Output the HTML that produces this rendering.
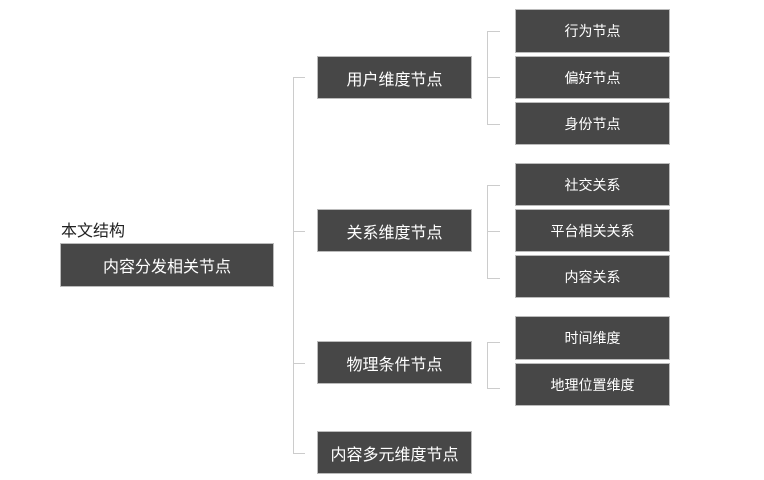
<!DOCTYPE html>
<html><head><meta charset="utf-8"><style>
body{margin:0;width:764px;height:480px;background:#fff;position:relative;overflow:hidden;font-family:"Liberation Sans","Noto Sans CJK SC",sans-serif}
.b{position:absolute;background:#474747;color:#fff;display:flex;align-items:center;justify-content:center;box-shadow:0 0 0 1px #bbb}
.m{font-size:16px}.l{font-size:14px}
.v{position:absolute;width:1px;background:#ccc}
.h{position:absolute;height:1px;background:#ccc}
</style></head><body>
<div style="position:absolute;left:61px;top:217px;font-size:16px;color:#222">本文结构</div>
<div class="b m" style="left:61px;top:244px;width:212px;height:42px">内容分发相关节点</div>

<div class="v" style="left:293px;top:77px;height:377px"></div>
<div class="h" style="left:293px;top:77px;width:12px"></div>
<div class="h" style="left:293px;top:231px;width:12px"></div>
<div class="h" style="left:293px;top:363px;width:12px"></div>
<div class="h" style="left:293px;top:453px;width:12px"></div>

<div class="b m" style="left:318px;top:57px;width:153px;height:41px">用户维度节点</div>
<div class="b m" style="left:318px;top:210px;width:153px;height:41px">关系维度节点</div>
<div class="b m" style="left:318px;top:342px;width:153px;height:41px">物理条件节点</div>
<div class="b m" style="left:318px;top:432px;width:153px;height:41px">内容多元维度节点</div>

<div class="v" style="left:487px;top:31px;height:94px"></div>
<div class="h" style="left:487px;top:31px;width:13px"></div>
<div class="h" style="left:487px;top:77px;width:13px"></div>
<div class="h" style="left:487px;top:124px;width:13px"></div>
<div class="v" style="left:487px;top:185px;height:94px"></div>
<div class="h" style="left:487px;top:185px;width:13px"></div>
<div class="h" style="left:487px;top:231px;width:13px"></div>
<div class="h" style="left:487px;top:278px;width:13px"></div>
<div class="v" style="left:487px;top:342px;height:47px"></div>
<div class="h" style="left:487px;top:342px;width:13px"></div>
<div class="h" style="left:487px;top:388px;width:13px"></div>

<div class="b l" style="left:516px;top:10px;width:153px;height:42px">行为节点</div>
<div class="b l" style="left:516px;top:57px;width:153px;height:41px">偏好节点</div>
<div class="b l" style="left:516px;top:103px;width:153px;height:41px">身份节点</div>
<div class="b l" style="left:516px;top:164px;width:153px;height:41px">社交关系</div>
<div class="b l" style="left:516px;top:210px;width:153px;height:41px">平台相关关系</div>
<div class="b l" style="left:516px;top:256px;width:153px;height:41px">内容关系</div>
<div class="b l" style="left:516px;top:317px;width:153px;height:42px">时间维度</div>
<div class="b l" style="left:516px;top:364px;width:153px;height:41px">地理位置维度</div>
</body></html>
